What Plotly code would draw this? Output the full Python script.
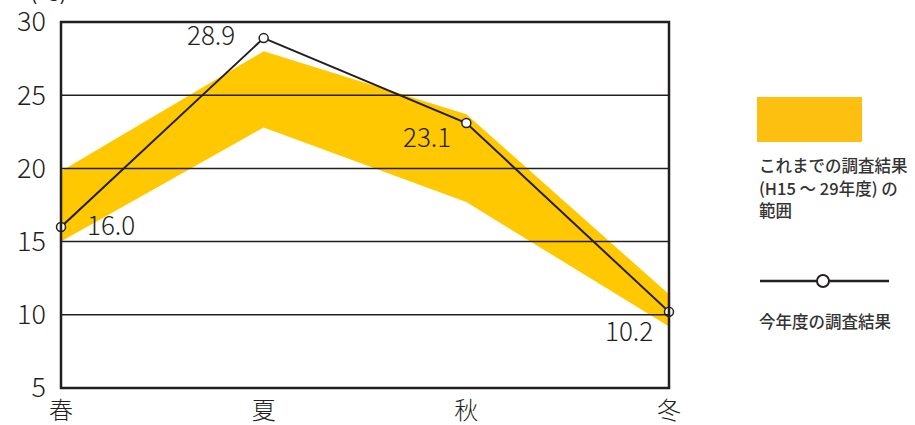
import plotly.graph_objects as go

seasons = ["春", "夏", "秋", "冬"]
range_upper = [19.8, 28.0, 23.7, 11.4]
range_lower = [15.0, 22.8, 17.7, 9.2]
this_year = [16.0, 28.9, 23.1, 10.2]
label_shift_x = [50, -53, -39, -40]
label_shift_y = [3, 5, -12, -18]
y_ticks = [5, 10, 15, 20, 25, 30]
legend_range_lines = ["これまでの調査結果", "(H15 ～ 29年度) の", "範囲"]
legend_line_label = "今年度の調査結果"

DARK = "#231f20"
BAND = "#ffc800"
FONT = "Noto Sans CJK JP"

fig = go.Figure()
fig.add_trace(go.Scatter(x=seasons, y=range_upper, mode="lines",
                         line=dict(width=0, color=BAND), hoverinfo="skip"))
fig.add_trace(go.Scatter(x=seasons, y=range_lower, mode="lines", fill="tonexty",
                         fillcolor=BAND, line=dict(width=0, color=BAND), hoverinfo="skip"))
fig.add_trace(go.Scatter(x=seasons, y=this_year, mode="lines+markers",
                         line=dict(color=DARK, width=2),
                         marker=dict(size=9, color="white", line=dict(color=DARK, width=1.5)),
                         cliponaxis=False))

for s, v, dx, dy in zip(seasons, this_year, label_shift_x, label_shift_y):
    fig.add_annotation(x=s, y=v, text=f"{v:.1f}", showarrow=False,
                       xshift=dx, yshift=dy,
                       font=dict(family=FONT, size=26, color=DARK, weight=300))

# horizontal grid lines
for v in y_ticks[1:-1]:
    fig.add_shape(type="line", xref="paper", yref="y", x0=0, x1=1, y0=v, y1=v,
                  line=dict(color=DARK, width=1.5), layer="above")
# frame
fig.add_shape(type="rect", xref="paper", yref="paper", x0=0, x1=1, y0=0, y1=1,
              line=dict(color=DARK, width=2.5), layer="above")

# unit label (partly cut at top in the original)
fig.add_annotation(text="(℃)", xref="paper", yref="paper", x=-0.02, y=1.0,
                   yshift=14, xanchor="center", yanchor="bottom", showarrow=False,
                   font=dict(family=FONT, size=22, color=DARK))

# legend (manual)
def px(xp):
    return (xp - 61) / 608
def py(yp):
    return (388 - yp) / 366

fig.add_shape(type="rect", xref="paper", yref="paper", x0=px(757), x1=px(862),
              y0=py(142), y1=py(97), fillcolor="#fdc010", line=dict(width=0))
for i, line in enumerate(legend_range_lines):
    fig.add_annotation(text=line, xref="paper", yref="paper", x=px(757), y=py(165 + 22.5 * i),
                       xanchor="left", yanchor="middle", align="left", showarrow=False,
                       font=dict(family=FONT, size=16.5, color="#333333", weight=500))
fig.add_shape(type="line", xref="paper", yref="paper", x0=px(760), x1=px(889),
              y0=py(281), y1=py(281), line=dict(color=DARK, width=2.5))
fig.add_shape(type="circle", xref="paper", yref="paper",
              x0=px(817), x1=px(829), y0=py(287), y1=py(275),
              fillcolor="white", line=dict(color=DARK, width=2))
fig.add_annotation(text=legend_line_label, xref="paper", yref="paper", x=px(757), y=py(321),
                   xanchor="left", yanchor="middle", align="left", showarrow=False,
                   font=dict(family=FONT, size=16.5, color="#333333", weight=500))

fig.update_layout(
    width=915, height=425,
    margin=dict(l=61, r=246, t=22, b=37, autoexpand=False),
    paper_bgcolor="white", plot_bgcolor="white",
    showlegend=False,
    xaxis=dict(type="category", range=[0, 3], showgrid=False, zeroline=False,
               showline=False, ticks="", automargin=False, ticklabelstandoff=6,
               tickfont=dict(family=FONT, size=24, color=DARK, weight=300)),
    yaxis=dict(range=[5, 30], tickvals=y_ticks, showgrid=False, zeroline=False,
               showline=False, ticks="", ticklabelstandoff=14, automargin=False,
               tickfont=dict(family=FONT, size=27, color=DARK, weight=300)),
)

fig.write_html("out.html")
